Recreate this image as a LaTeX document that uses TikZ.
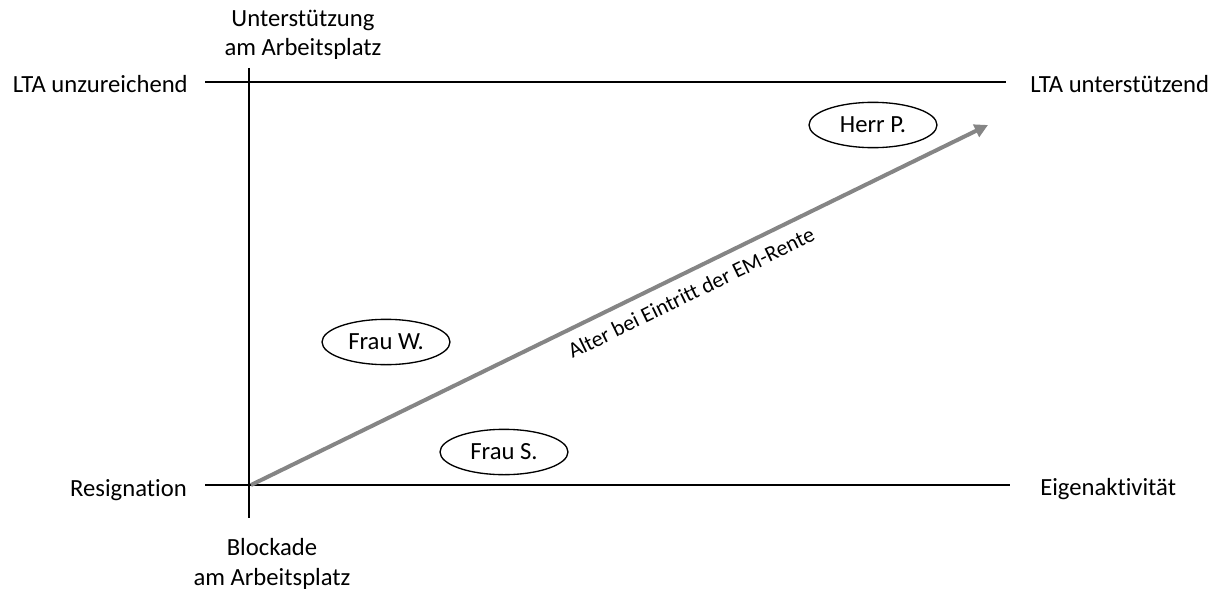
\documentclass[tikz,border=0pt]{standalone}
\usepackage{fontspec}
\setmainfont{Carlito}[Ligatures={NoCommon}]
\usetikzlibrary{arrows.meta,shapes.geometric}
\begin{document}
\begin{tikzpicture}[x=0.75pt,y=-0.75pt,
  lbl/.style={font=\fontsize{18.5}{22}\selectfont, inner sep=0pt, align=center, text=black},
  axis/.style={line width=1.1pt, black},
  person/.style={draw, ellipse, line width=1pt, minimum width=96pt, minimum height=34pt, font=\fontsize{18.5}{22}\selectfont, inner sep=0pt},
  trend/.style={line width=3pt, color=black!48, -{Triangle[length=10pt,width=10pt]}}]
\useasboundingbox (0,0) rectangle (1220,592);
% axis end points
\coordinate (tl) at (205,82);
\coordinate (tr) at (1006,82);
\coordinate (bl) at (205,485);
\coordinate (br) at (1010,485);
\coordinate (vt) at (249,68);
\coordinate (vb) at (249,518);
\coordinate (as) at (251,485);
\coordinate (ae) at (988,125);
\draw[axis] (tl) -- (tr);
\draw[axis] (bl) -- (br);
\draw[axis] (vt) -- (vb);
% labels
\node[lbl, anchor=east] (lu) at (188,84) {LTA unzureichend};
\node[lbl, anchor=west] (lt) at (1030,84) {LTA unterstützend};
\node[lbl, anchor=east] (re) at (187,490) {Resignation};
\node[lbl, anchor=west] (ei) at (1040,489) {Eigenaktivität};
\node[lbl] (un) at (303,35) {Unterstützung\\am Arbeitsplatz};
\node[lbl] (bk) at (272,564) {Blockade\\am Arbeitsplatz};
% persons
\node[person] (hp) at (873,125) {Herr P.};
\node[person] (fw) at (386,342) {Frau W.};
\node[person] (fs) at (504,452) {Frau S.};
% trend arrow
\draw[trend] (as) -- node[pos=0.585, sloped, below=8pt, lbl, font=\fontsize{16.5}{20}\selectfont] (al) {Alter bei Eintritt der EM-Rente} (ae);
\end{tikzpicture}
\end{document}
